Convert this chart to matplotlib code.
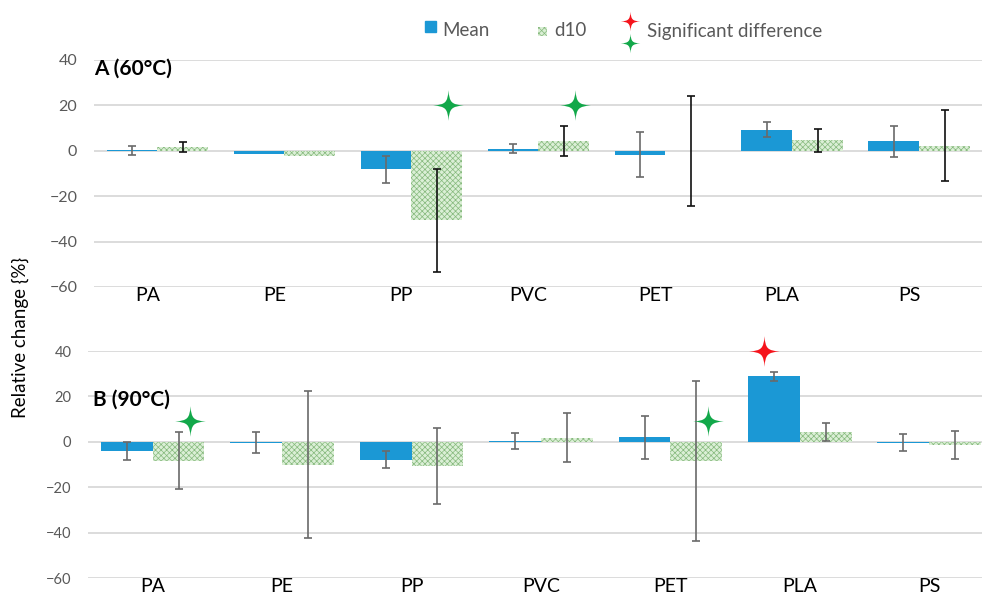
import numpy as np
import matplotlib
matplotlib.use('Agg')
import matplotlib.pyplot as plt
import matplotlib.transforms as mtrans
from matplotlib.path import Path

plt.rcParams['font.family'] = ['Lato', 'DejaVu Sans']
plt.rcParams['hatch.linewidth'] = 0.5

nan = np.nan
categories = ['PA', 'PE', 'PP', 'PVC', 'PET', 'PLA', 'PS']

# panel A (60 C)
a_mean = [0.3, -1.5, -8.1, 1.0, -1.8, 9.3, 4.1]
a_mean_err = [2.0, nan, 6.0, 1.8, 9.9, 3.3, 6.7]
a_d10 = [1.5, -2.5, -30.7, 4.4, 0.0, 4.7, 2.2]
a_d10_err = [2.2, nan, 22.6, 6.7, 24.2, 5.1, 15.7]

# panel B (90 C)
b_mean = [-4.0, -0.3, -7.8, 0.3, 2.0, 28.8, -0.3]
b_mean_err = [4.1, 4.75, 3.7, 3.4, 9.5, 1.8, 3.65]
b_d10 = [-8.3, -10.1, -10.8, 1.9, -8.3, 4.4, -1.5]
b_d10_err = [12.5, 32.3, 16.8, 10.7, 35.3, 4.0, 6.2]

# significance markers: category, series, y, colour
a_sig = [('PP', 'd10', 20, 'green'), ('PVC', 'd10', 20, 'green')]
b_sig = [('PA', 'd10', 9, 'green'), ('PET', 'd10', 9, 'green'),
         ('PLA', 'mean', 40, 'red')]

BLUE = '#1b98d5'
GREEN_FACE = '#dbefd6'
GREEN_HATCH = '#86b97d'
GRID = '#d9d9d9'
TXT = '#595959'
STAR_COL = {'green': '#12a84a', 'red': '#f5141c'}


def star_path(a=0.06, b=0.2):
    # four-pointed star with concave sides (cubic curves between tips)
    tips = [(0, 1), (1, 0), (0, -1), (-1, 0)]
    verts = [tips[0]]
    codes = [Path.MOVETO]
    for k in range(4):
        p, q = tips[k], tips[(k + 1) % 4]
        sx = p[0] + q[0]
        sy = p[1] + q[1]
        c1 = (sx * a, sy * b) if p[0] == 0 else (sx * b, sy * a)
        c2 = (sx * a, sy * b) if q[0] == 0 else (sx * b, sy * a)
        verts += [c1, c2, q]
        codes += [Path.CURVE4] * 3
    verts.append(tips[0])
    codes.append(Path.CLOSEPOLY)
    return Path(verts, codes)


STAR = star_path()


def draw_panel(ax, mean, mean_err, d10, d10_err, sig, title, tick_fs,
               mean_ecol, d10_ecol, label_shift):
    x = np.arange(len(categories))
    w = 0.4
    ax.bar(x - w / 2, mean, w, color=BLUE, linewidth=0, zorder=2)
    ax.bar(x + w / 2, d10, w, color=GREEN_FACE, edgecolor=GREEN_HATCH,
           hatch='xxxxxx', linewidth=0, zorder=2)
    for xs, vals, errs, col in [(x - w / 2, mean, mean_err, mean_ecol),
                                (x + w / 2, d10, d10_err, d10_ecol)]:
        vals = np.array(vals)
        errs = np.array(errs)
        ok = ~np.isnan(errs)
        ax.errorbar(xs[ok], vals[ok], yerr=errs[ok], fmt='none',
                    ecolor=col, elinewidth=1.2, capsize=2.6, capthick=1.2,
                    zorder=3)
    for cat, series, yv, c in sig:
        i = categories.index(cat)
        xo = i + 0.29 if series == 'd10' else i - 0.28
        ax.plot(xo, yv, marker=STAR, markersize=22, color=STAR_COL[c],
                markeredgewidth=0, linestyle='none', zorder=4, clip_on=False)

    ax.set_ylim(-60, 40)
    ax.set_xlim(-0.5, 6.5)
    ax.set_yticks(np.arange(-60, 41, 20))
    ax.grid(axis='y', color=GRID, linewidth=1.3, zorder=0)
    ax.set_axisbelow(True)
    for s in ax.spines.values():
        s.set_visible(False)
    ax.tick_params(axis='y', length=0, pad=12, labelsize=tick_fs,
                   labelcolor=TXT)
    ax.set_xticks(x)
    ax.set_xticklabels(categories, fontsize=14, color='black')
    ax.tick_params(axis='x', length=0, pad=0)
    off = mtrans.ScaledTranslation(label_shift / 100, 0, ax.figure.dpi_scale_trans)
    for lab in ax.get_xticklabels():
        lab.set_transform(lab.get_transform() + off)
    ax.text(0.0, 0.96, title, transform=ax.transAxes, fontsize=15,
            fontweight='bold', ha='left', va='center')


fig = plt.figure(figsize=(9.82, 5.97), dpi=100, facecolor='white')
ax_a = fig.add_axes([0.0957, 0.5193, 0.905, 0.3802])
ax_b = fig.add_axes([0.0896, 0.0318, 0.9226, 0.3802])

draw_panel(ax_a, a_mean, a_mean_err, a_d10, a_d10_err, a_sig, 'A (60°C)',
           11.5, '#6a6a6a', '#111111', -10)
draw_panel(ax_b, b_mean, b_mean_err, b_d10, b_d10_err, b_sig, 'B (90°C)',
           10.5, '#6a6a6a', '#6a6a6a', 0)
ax_b.texts[0].set_position((0.005, 0.785))

fig.text(0.021, 0.434, 'Relative change {%}', rotation=90, fontsize=13.5,
         ha='center', va='center', color='black')

# legend drawn in figure coordinates
W, H = 982, 597
fig.patches.append(plt.Rectangle((425 / W, 1 - 32 / H), 11 / W, 11 / H,
                                 transform=fig.transFigure, color=BLUE))
fig.text(442 / W, 1 - 31 / H, 'Mean', fontsize=13.5, color=TXT,
         ha='left', va='center')
fig.patches.append(plt.Rectangle((538 / W, 1 - 36 / H), 9 / W, 9 / H,
                                 transform=fig.transFigure,
                                 facecolor=GREEN_FACE, edgecolor=GREEN_HATCH,
                                 hatch='xxxxxx', linewidth=0))
fig.text(554 / W, 1 - 31 / H, 'd10', fontsize=13.5, color=TXT,
         ha='left', va='center')
fig.lines.append(plt.Line2D([630 / W], [1 - 21 / H], marker=STAR,
                            markersize=14, color=STAR_COL['red'],
                            markeredgewidth=0,
                            transform=fig.transFigure, linestyle='none'))
fig.lines.append(plt.Line2D([630 / W], [1 - 43 / H], marker=STAR,
                            markersize=14, color=STAR_COL['green'],
                            markeredgewidth=0,
                            transform=fig.transFigure, linestyle='none'))
fig.text(647 / W, 1 - 32 / H, 'Significant difference', fontsize=13.5,
         color=TXT, ha='left', va='center')

fig.savefig('out.png', dpi=100, facecolor='white')
